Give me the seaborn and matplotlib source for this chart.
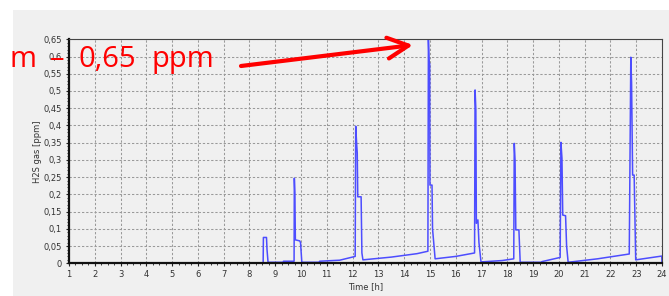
import matplotlib
matplotlib.use("Agg")
import matplotlib.pyplot as plt
import matplotlib.ticker as mticker
from matplotlib.patches import Rectangle, FancyArrowPatch
import seaborn as sns
import pandas as pd

# ---- data ----
time_h = [1.0, 8.53, 8.54, 8.66, 8.68, 8.72, 9.30, 9.32, 9.73, 9.74, 9.76, 9.78,
          9.95, 9.98, 10.03, 10.70, 10.72, 11.50, 12.10, 12.12, 12.16, 12.18,
          12.20, 12.33, 12.36, 12.40, 13.50, 14.50, 14.92, 14.94, 14.97, 14.99,
          15.00, 15.08, 15.10, 15.20, 16.00, 16.73, 16.75, 16.78, 16.80, 16.86,
          16.90, 16.98, 17.80, 18.25, 18.27, 18.30, 18.33, 18.45, 18.50, 19.30,
          19.35, 20.05, 20.08, 20.12, 20.15, 20.26, 20.30, 20.36, 21.50, 22.73,
          22.79, 22.82, 22.86, 22.92, 22.98, 23.99, 24.0]
h2s_ppm = [0.0, 0.0, 0.075, 0.075, 0.040, 0.003, 0.003, 0.006, 0.006, 0.247, 0.205, 0.068,
           0.065, 0.060, 0.003, 0.003, 0.006, 0.009, 0.020, 0.398, 0.343, 0.320,
           0.193, 0.193, 0.030, 0.010, 0.018, 0.028, 0.035, 0.648, 0.580, 0.580,
           0.227, 0.227, 0.100, 0.013, 0.020, 0.030, 0.503, 0.447, 0.116, 0.126,
           0.060, 0.004, 0.008, 0.013, 0.348, 0.300, 0.097, 0.097, 0.003, 0.003,
           0.005, 0.017, 0.351, 0.305, 0.140, 0.138, 0.050, 0.003, 0.013, 0.027,
           0.598, 0.524, 0.256, 0.256, 0.010, 0.021, 0.0]
x_ticks = list(range(1, 25))
y_ticks = [0, 0.05, 0.1, 0.15, 0.2, 0.25, 0.3, 0.35, 0.4, 0.45, 0.5, 0.55, 0.6, 0.65]

df = pd.DataFrame({"t": time_h, "v": h2s_ppm})

sns.set_style("ticks")
plt.rcParams["font.family"] = ["DejaVu Sans"]

W, H = 669, 296
fig = plt.figure(figsize=(W / 100, H / 100), dpi=100, facecolor="white")
fig.patches.append(Rectangle((13 / W, 0), 1 - 13 / W, 1 - 10 / H, transform=fig.transFigure,
                             facecolor="#f0f0f0", edgecolor="none", zorder=-10))
ax = fig.add_axes([69 / W, (H - 263.3) / H, (662 - 69) / W, (263.3 - 39.3) / H])
ax.set_facecolor("#f0f0f0")

sns.lineplot(data=df, x="t", y="v", ax=ax, sort=False, estimator=None,
             color="#4d4dff", linewidth=1.1, zorder=2)

ax.set_xlim(1, 24)
ax.set_ylim(0, 0.65)
ax.set_xticks(x_ticks)
ax.set_yticks(y_ticks)


def fmt(v, pos):
    if abs(v) < 1e-9:
        return "0"
    s = f"{v:.2f}".rstrip("0").rstrip(".")
    return s.replace(".", ",")


ax.yaxis.set_major_formatter(mticker.FuncFormatter(fmt))
ax.xaxis.set_minor_locator(mticker.MultipleLocator(0.25))
ax.yaxis.set_minor_locator(mticker.MultipleLocator(0.01))
ax.tick_params(axis="both", which="major", labelsize=6, labelcolor="#333333",
               length=2.5, width=0.8, color="#222222", pad=2.5)
ax.tick_params(axis="both", which="minor", length=1.5, width=0.6, color="#222222")

ax.grid(True, which="major", color="#9a9a9a", linestyle=(0, (2.2, 1.8)), linewidth=0.75)
for s in ["left", "bottom"]:
    ax.spines[s].set_color("#111111")
    ax.spines[s].set_linewidth(1.6)
for s in ["top", "right"]:
    ax.spines[s].set_color("#444444")
    ax.spines[s].set_linewidth(0.8)
    ax.spines[s].set_visible(True)
for sp in ax.spines.values():
    sp.set_zorder(3)

ax.set_xlabel("Time [h]", fontsize=6, color="#333333", labelpad=2)
ax.set_ylabel("H2S gas [ppm]", fontsize=6, color="#333333", labelpad=1)

# red annotation (pieces placed where the reference shows them, common baseline)
for xpx, s in [(10, "m"), (50, "–"), (78, "0,65"), (152, "ppm")]:
    fig.text(xpx / W, 1 - 67 / H, s, color="#ff0000", fontsize=21,
             family="Open Sans", va="baseline", ha="left")
arrow = FancyArrowPatch((241 / W, 1 - 66 / H), (413 / W, 1 - 45 / H),
                        transform=fig.transFigure,
                        arrowstyle="->,head_length=1.0,head_width=0.5",
                        mutation_scale=15, color="#ff0000", linewidth=3,
                        shrinkA=0, shrinkB=0)
fig.patches.append(arrow)

fig.savefig("out.png", dpi=100, facecolor="white")
